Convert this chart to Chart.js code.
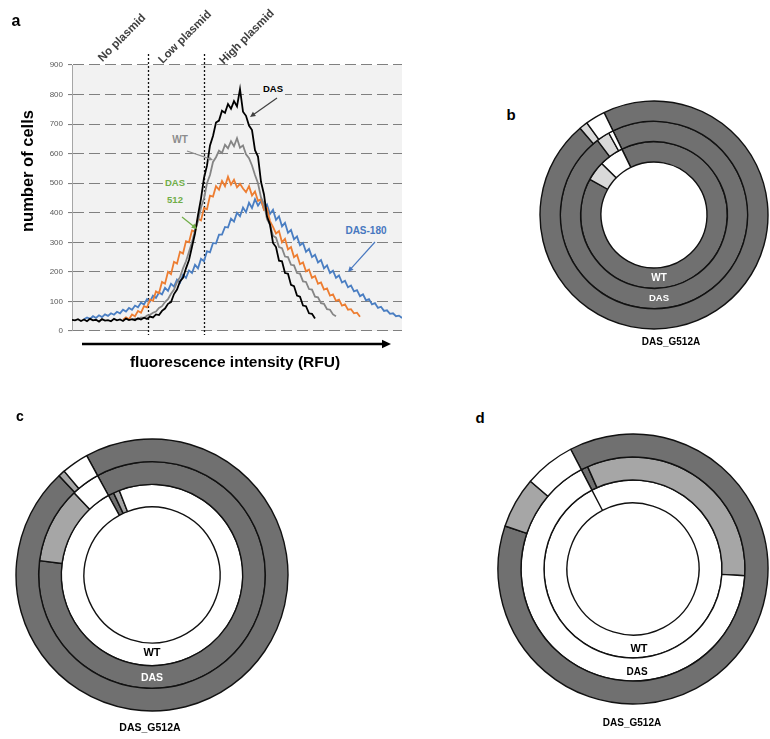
<!DOCTYPE html>
<html>
<head>
<meta charset="utf-8">
<script src="https://cdn.jsdelivr.net/npm/chart.js@4.4.1/dist/chart.umd.min.js"></script>
<style>
  body { margin:0; width:770px; height:739px; overflow:hidden; position:relative; background:#fff;
         font-family:'Liberation Sans', Arial, sans-serif; }
  canvas { position:absolute; }
  .t { position:absolute; transform:translate(-50%,-50%); white-space:nowrap; font-weight:bold; line-height:1; }
  .note { background:#f2f2f2; padding:1px 2px; }
</style>
</head>
<body>
<canvas id="hist" width="405" height="375" style="left:0;top:0"></canvas>
<canvas id="ringB" width="232" height="232" style="left:538px;top:99px"></canvas>
<canvas id="ringC" width="276" height="276" style="left:14px;top:437px"></canvas>
<canvas id="ringD" width="272" height="272" style="left:497px;top:433px"></canvas>

<div class="t" style="left:16px;top:21px;font-size:16px">a</div>
<div class="t" style="left:511px;top:114px;font-size:15px">b</div>
<div class="t" style="left:20px;top:416px;font-size:14px">c</div>
<div class="t" style="left:480px;top:417px;font-size:15px">d</div>

<div class="t" style="left:27px;top:171px;font-size:16.5px;transform:translate(-50%,-50%) rotate(-90deg)">number of cells</div>
<div class="t" style="left:235px;top:362px;font-size:15.5px">fluorescence intensity (RFU)</div>
<div id="gateLabels"></div>

<div class="t note" style="left:273px;top:89px;font-size:9.5px;color:#000">DAS</div>
<div class="t note" style="left:180px;top:140px;font-size:10px;color:#8c8c8c">WT</div>
<div class="t note" style="left:175px;top:191px;font-size:9.5px;color:#70ad47;line-height:17px;text-align:center">DAS<br>512</div>
<div class="t note" style="left:366px;top:231px;font-size:10px;color:#4878c0">DAS-180</div>

<div class="t" style="left:659px;top:278px;font-size:10px;color:#fff">WT</div>
<div class="t" style="left:659px;top:298px;font-size:9.5px;color:#fff">DAS</div>
<div class="t" style="left:671px;top:342px;font-size:10px">DAS_G512A</div>

<div class="t" style="left:152px;top:652px;font-size:11px;color:#000">WT</div>
<div class="t" style="left:152px;top:677px;font-size:10.5px;color:#fff">DAS</div>
<div class="t" style="left:150px;top:727px;font-size:10.5px">DAS_G512A</div>

<div class="t" style="left:639px;top:648px;font-size:11px;color:#000">WT</div>
<div class="t" style="left:637px;top:672px;font-size:10px;color:#000">DAS</div>
<div class="t" style="left:632px;top:723px;font-size:10px">DAS_G512A</div>

<script>
// ---- panel a: flow cytometry histograms (arbitrary RFU channels, 3 per bin) ----
const channel = [0,3,6,9,12,15,18,21,24,27,30,33,36,39,42,45,48,51,54,57,60,63,66,69,72,75,78,81,84,87,
  90,93,96,99,102,105,108,111,114,117,120,123,126,129,132,135,138,141,144,147,150,153,156,159,162,165,168,171,174,177,
  180,183,186,189,192,195,198,201,204,207,210,213,216,219,222,225,228,231,234,237,240,243,246,249,252,255,258,261,264,267,
  270,273,276,279,282,285,288,291,294,297,300,303,306,309,312,315,318,321,324,327,330];

const dasStart = 0;
const das = [38,36,40,34,39,33,41,36,38,32, 40,35,37,33,41,36,39,34,42,37,
  40,36,43,39,45,41,49,46,56,54, 68,76,92,98,125,140,168,180,212,240,
  285,330,392,448,518,560,628,660,705,712, 745,738,768,752,778,760,818,742,728,695,
  680,612,590,505,462,388,360,298,284,238, 236,196,194,156,152,120,116,86,84,60, 58,42];

const wtStart = 20;
const wt = [38,42,40,46,44,52,55,62,66,78, 84,98,108,126,140,165,182,212,236,268,
  300,340,372,418,448,500,528,572,588,610, 602,630,618,642,625,652,620,628,598,585,
  560,528,500,452,430,378,360,322,316,284, 280,252,250,224,222,196,194,168,166,142,
  140,116,114,94,92,74,72,56,50];

const das512Start = 17;
const das512 = [38,46,40,56,50,68,62,84,80,106, 102,134,128,166,160,200,192,234,228,268,
  262,304,300,340,336,380,374,416,412,458, 455,490,478,508,490,522,495,512,486,498,
  482,470,490,458,472,440,446,410,416,372, 352,330,338,300,312,276,284,250,258,226,
  232,202,208,180,186,160,164,140,144,120, 124,102,106,86,90,72,74,60,62,48];

const das180Start = 4;
const das180 = [40,46,41,50,44,53,47,56,51,60, 55,65,60,72,66,78,72,86,80,96,
  90,108,100,120,112,130,124,146,136,160, 150,174,164,190,180,205,196,224,212,244,
  236,270,266,298,296,326,326,352,350,380, 370,400,388,418,402,434,416,446,424,440,
  412,428,396,410,376,388,354,366,332,342, 310,320,290,298,268,278,250,258,232,240,
  212,222,196,204,180,188,164,170,148,154, 134,138,118,124,104,108,90,94,78,82,
  68,70,58,60,50,52,44];

const gates = ['No plasmid', 'Low plasmid', 'High plasmid'];
const gateEdges = [76, 132];   // channel where one gate ends and the next begins

// ---- panels b-d: share of cells per gate, rings outer -> inner ----
const classes = ['High plasmid', 'Low plasmid', 'No plasmid'];
const rings = ['DAS_G512A', 'DAS', 'WT'];
const bG512A = [96.0, 1.2, 2.8];
const bDAS   = [96.9, 2.3, 0.8];
const bWT    = [90.3, 4.3, 5.4];
const cG512A = [96.0, 0.8, 3.2];
const cDAS   = [85.0, 10.9, 4.1];
const cWT    = [1.0, 1.1, 97.9];
const dG512A = [87.8, 6.1, 6.1];
const dDAS   = [1.0, 32.6, 66.4];
const dWT    = [0, 0, 100];

const FONT = "'Liberation Sans', Arial, sans-serif";

function points(start, ys) {
  return ys.map((y, i) => ({ x: channel[start + i], y: y }));
}

// gate labels, rotated like the original
const gatePos = [[122, 38], [185, 37], [247, 37]];
gates.forEach((g, i) => {
  const el = document.createElement('div');
  el.className = 't';
  el.textContent = g;
  el.style.cssText = `left:${gatePos[i][0]}px;top:${gatePos[i][1]}px;font-size:11.5px;color:#404040;` +
    'transform:translate(-50%,-50%) rotate(-45deg)';
  document.getElementById('gateLabels').appendChild(el);
});

function arrow(ctx, x1, y1, x2, y2, color, w, head) {
  const a = Math.atan2(y2 - y1, x2 - x1);
  ctx.save();
  ctx.strokeStyle = color; ctx.fillStyle = color; ctx.lineWidth = w;
  ctx.beginPath(); ctx.moveTo(x1, y1);
  ctx.lineTo(x2 - Math.cos(a) * head * 0.8, y2 - Math.sin(a) * head * 0.8); ctx.stroke();
  ctx.beginPath();
  ctx.moveTo(x2, y2);
  ctx.lineTo(x2 - head * Math.cos(a - 0.45), y2 - head * Math.sin(a - 0.45));
  ctx.lineTo(x2 - head * Math.cos(a + 0.45), y2 - head * Math.sin(a + 0.45));
  ctx.closePath(); ctx.fill();
  ctx.restore();
}

const histDecor = {
  id: 'histDecor',
  beforeDraw(chart) {
    const { ctx, chartArea: ca } = chart;
    ctx.save();
    ctx.fillStyle = '#f2f2f2';
    ctx.fillRect(ca.left, ca.top, ca.right - ca.left, ca.bottom - ca.top);
    ctx.restore();
  },
  beforeDatasetsDraw(chart) {
    const { ctx, scales: { x } } = chart;
    ctx.save();
    ctx.strokeStyle = '#111'; ctx.lineWidth = 1.3; ctx.setLineDash([2, 2]);
    gateEdges.forEach(v => {
      const px = Math.round(x.getPixelForValue(v)) + 0.5;
      ctx.beginPath(); ctx.moveTo(px, 54); ctx.lineTo(px, 335); ctx.stroke();
    });
    ctx.restore();
  },
  afterDraw(chart) {
    const ctx = chart.ctx;
    arrow(ctx, 82, 344, 391, 344, '#000', 2.6, 10);
    arrow(ctx, 277, 98, 250, 117, '#404040', 1.2, 6);
    arrow(ctx, 187, 151, 213, 160, '#8c8c8c', 1.2, 5);
    arrow(ctx, 182, 217, 197, 229, '#70ad47', 1.2, 6);
    arrow(ctx, 375, 242, 348, 272, '#4878c0', 1.2, 6);
  }
};

new Chart(document.getElementById('hist'), {
  type: 'line',
  data: {
    datasets: [
      { label: 'DAS', data: points(dasStart, das), borderColor: '#000000' },
      { label: 'WT', data: points(wtStart, wt), borderColor: '#858585' },
      { label: 'DAS 512', data: points(das512Start, das512), borderColor: '#ed7d31' },
      { label: 'DAS-180', data: points(das180Start, das180), borderColor: '#4a7ec2' }
    ]
  },
  options: {
    responsive: false, animation: false, devicePixelRatio: 1, events: [],
    layout: { padding: { left: 0, top: 65, right: 3, bottom: 44 } },
    elements: { point: { radius: 0 }, line: { borderWidth: 1.8, tension: 0 } },
    plugins: { legend: { display: false }, tooltip: { enabled: false } },
    scales: {
      x: { type: 'linear', min: 0, max: 330, display: false },
      y: {
        min: 0, max: 900,
        afterFit(s) { s.width = 72; },
        ticks: { stepSize: 100, color: '#595959', padding: 5, font: { size: 8, family: FONT } },
        grid: { color: '#808080', lineWidth: 1.1, tickLength: 4, tickColor: '#808080' },
        border: { display: true, color: '#a6a6a6', width: 1, dash: [11, 5] }
      }
    }
  },
  plugins: [histDecor]
});

function ringChart(id, start, outer, hole, light, series) {
  new Chart(document.getElementById(id), {
    type: 'doughnut',
    data: {
      labels: classes,
      datasets: series.map((d, i) => ({
        label: rings[i], data: d,
        backgroundColor: ['#707070', light, '#ffffff'],
        borderColor: '#111111', borderWidth: 1.4
      }))
    },
    options: {
      responsive: false, animation: false, devicePixelRatio: 1, events: [],
      rotation: start, radius: outer, cutout: (hole / outer * 100) + '%',
      plugins: { legend: { display: false }, tooltip: { enabled: false } }
    }
  });
}

ringChart('ringB', -26, 114, 53, '#d9d9d9', [bG512A, bDAS, bWT]);
ringChart('ringC', -28.7, 136, 68, '#a6a6a6', [cG512A, cDAS, cWT]);
ringChart('ringD', -27.5, 135, 66, '#a6a6a6', [dG512A, dDAS, dWT]);
</script>
</body>
</html>
